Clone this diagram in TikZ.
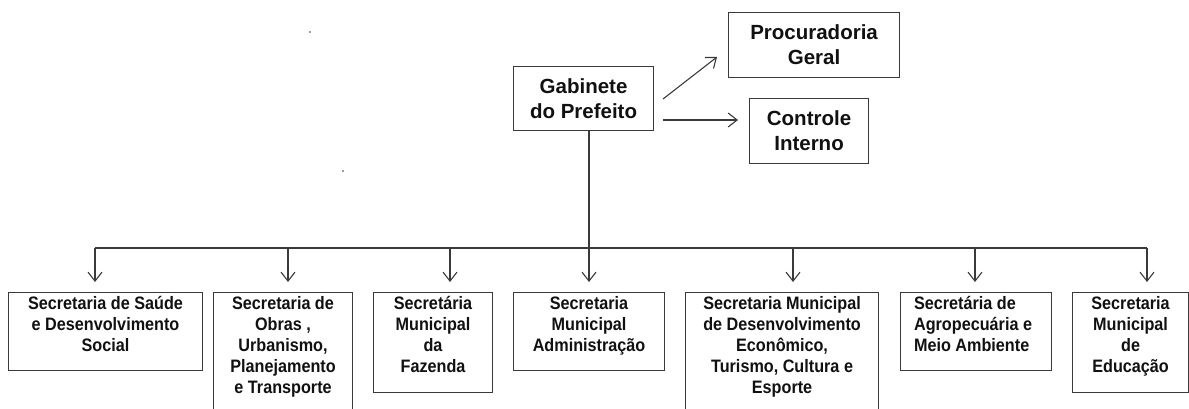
\documentclass[tikz,border=0pt]{standalone}
\usepackage{fontspec}
\setmainfont{Liberation Sans}
\newfontfamily\condfont[FakeStretch=0.9]{Liberation Sans}
\usetikzlibrary{arrows.meta}
\definecolor{linec}{HTML}{3A3A3A}
\definecolor{txtc}{HTML}{111111}
\tikzset{
  box/.style={draw=linec, line width=1.1pt, anchor=north west, inner sep=0pt},
  conn/.style={draw=linec, line width=1.1pt},
  arr/.style={conn, -{Straight Barb[length=9pt,width=14pt,line width=1.1pt]}},
  toptxt/.style={text=txtc, font=\bfseries\fontsize{20.5}{25}\selectfont, align=center},
  lowtxt/.style={text=txtc, font=\condfont\bfseries\fontsize{18}{21}\selectfont, align=center, anchor=north, inner sep=0pt, yshift=-4pt},
}
\begin{document}
\begin{tikzpicture}[x=1pt,y=-1pt]
\useasboundingbox (0,0) rectangle (1189,409);
\clip (0,0) rectangle (1189,409);
% top boxes
\node[box, toptxt, minimum width=140pt, minimum height=64pt] (gab) at (513,66) {Gabinete\\do Prefeito};
\node[box, toptxt, minimum width=171pt, minimum height=65pt] (proc) at (728,12) {Procuradoria\\Geral};
\node[box, toptxt, minimum width=119pt, minimum height=65pt] (ctrl) at (749,98) {Controle\\Interno};
% bottom boxes
\node[box, minimum width=194pt, minimum height=78pt] (b1) at (8,292) {};
\node[box, minimum width=139pt, minimum height=140pt] (b2) at (213,292) {};
\node[box, minimum width=119pt, minimum height=100pt] (b3) at (373,292) {};
\node[box, minimum width=151pt, minimum height=78pt] (b4) at (513,292) {};
\node[box, minimum width=193pt, minimum height=140pt] (b5) at (685,292) {};
\node[box, minimum width=151pt, minimum height=78pt] (b6) at (900,292) {};
\node[box, minimum width=116pt, minimum height=100pt] (b7) at (1072,292) {};
\node[lowtxt] (t1) at (b1.north) {Secretaria de Saúde\\e Desenvolvimento\\Social};
\node[lowtxt] (t2) at (b2.north) {Secretaria de\\Obras ,\\Urbanismo,\\Planejamento\\e Transporte};
\node[lowtxt] (t3) at (b3.north) {Secretária\\Municipal\\da\\Fazenda};
\node[lowtxt] (t4) at (b4.north) {Secretaria\\Municipal\\Administração};
\node[lowtxt] (t5) at (b5.north) {Secretaria Municipal\\de Desenvolvimento\\Econômico,\\Turismo, Cultura e\\Esporte};
\node[lowtxt, align=left] (t6) at ([xshift=-3pt]b6.north) {Secretária de\\Agropecuária e\\Meio Ambiente};
\node[lowtxt] (t7) at (b7.north) {Secretaria\\Municipal\\de\\Educação};
% connectors from Gabinete
\coordinate (g1) at (663,99);
\coordinate (g2) at (663,120);
\coordinate (p1) at (717,57);
\coordinate (c1) at (738,120);
\draw[arr] (g1) -- (p1);
\draw[arr] (g2) -- (c1);
% bus
\coordinate (gs) at (589,130);
\coordinate (j1) at (95,248);
\coordinate (j2) at (288,248);
\coordinate (j3) at (450,248);
\coordinate (j4) at (589,248);
\coordinate (j5) at (793,248);
\coordinate (j6) at (975,248);
\coordinate (j7) at (1147,248);
\draw[conn] (gs) -- (j4);
\draw[conn] (j1) -- (j7);
\draw[arr, shorten >=10pt] (j1) -- (j1 |- b1.north);
\draw[arr, shorten >=10pt] (j2) -- (j2 |- b2.north);
\draw[arr, shorten >=10pt] (j3) -- (j3 |- b3.north);
\draw[arr, shorten >=10pt] (j4) -- (j4 |- b4.north);
\draw[arr, shorten >=10pt] (j5) -- (j5 |- b5.north);
\draw[arr, shorten >=10pt] (j6) -- (j6 |- b6.north);
\draw[arr, shorten >=10pt] (j7) -- (j7 |- b7.north);
% stray dots
\fill[linec] (310,32) circle (0.9pt);
\fill[linec] (343,171) circle (0.9pt);
\end{tikzpicture}
\end{document}
